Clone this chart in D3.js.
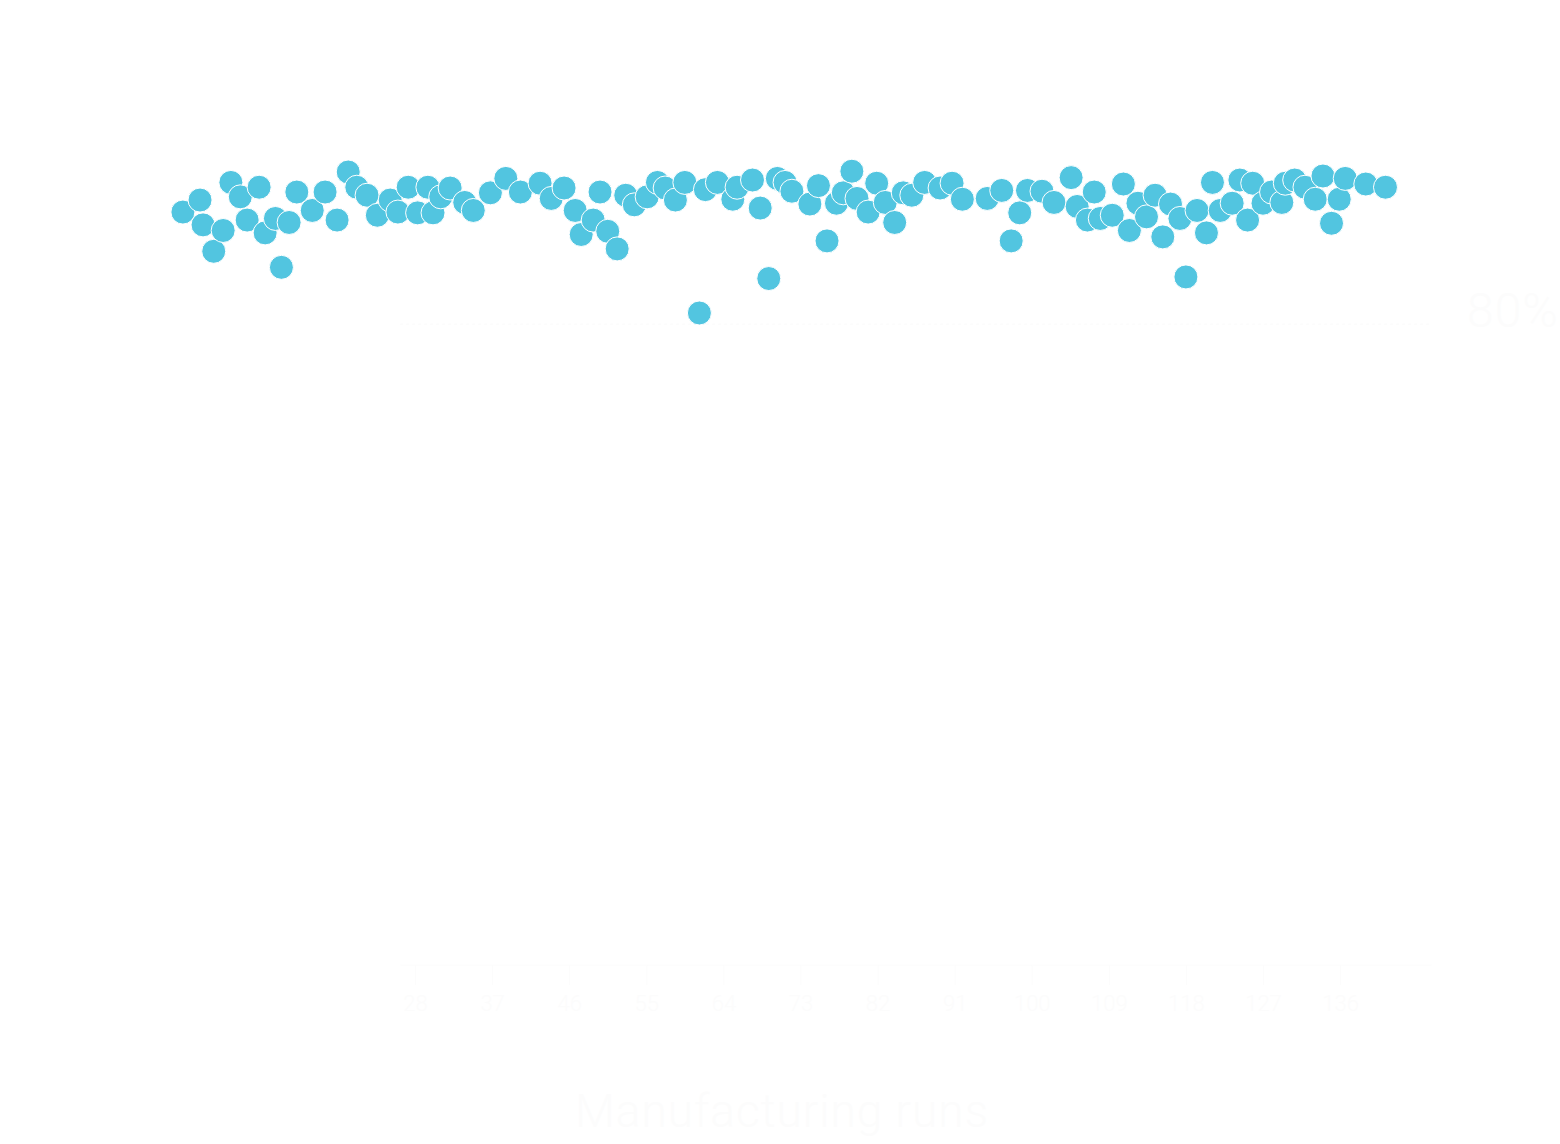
<!DOCTYPE html>
<html>
<head>
<meta charset="utf-8">
<script src="https://cdn.jsdelivr.net/npm/d3@7"></script>
<style>
  body { margin: 0; background: #ffffff; }
  svg { display: block; font-family: Roboto, sans-serif; }
</style>
</head>
<body>
<script>
// run number (x) and yield % (y)
var runs = [0.9, 2.9, 3.25, 4.5, 5.6, 6.5, 7.6, 8.4, 9.8, 10.5, 11.7, 12.4, 13.3, 14.2, 16.0, 17.5, 18.9, 20.2, 21.2, 22.4,
    23.6, 25.1, 26.0, 27.2, 28.3, 29.5, 30.1, 31.0, 32.1, 33.8, 34.8, 36.8, 38.6, 40.3, 42.6, 43.9, 45.4, 46.7, 47.4, 48.8,
    49.6, 50.5, 51.6, 52.6, 53.6, 55.1, 56.3, 57.2, 58.4, 59.5, 61.2, 61.9, 63.3, 65.1, 65.6, 67.4, 68.3, 69.3, 70.3, 71.2,
    72.0, 74.1, 75.1, 76.1, 77.2, 78.0, 79.0, 79.6, 80.9, 81.9, 82.9, 84.0, 85.0, 86.0, 87.5, 89.3, 90.7, 91.9, 94.8, 96.5,
    97.6, 98.6, 99.5, 101.2, 102.6, 104.6, 105.3, 106.5, 107.3, 108.0, 109.4, 110.7, 111.4, 112.4, 113.4, 114.4, 115.3, 116.2, 117.3, 118.0,
    119.3, 120.4, 121.1, 122.0, 123.4, 124.3, 125.2, 125.8, 127.0, 128.0, 129.2, 129.6, 130.7, 131.9, 133.1, 134.0, 135.0, 135.9, 136.6, 139.0,
    141.3];
var yields = [94.0, 95.5, 92.4, 89.1, 91.7, 97.7, 95.9, 93.0, 97.1, 91.4, 93.2, 87.1, 92.7, 96.5, 94.2, 96.5, 93.0, 99.0, 97.1, 96.1,
    93.6, 95.5, 94.0, 97.1, 93.9, 97.1, 93.9, 95.9, 97.0, 95.2, 94.2, 96.4, 98.2, 96.5, 97.6, 95.7, 97.0, 94.2, 91.2, 93.0,
    96.5, 91.6, 89.4, 96.1, 94.9, 95.9, 97.7, 97.0, 95.5, 97.7, 81.4, 96.8, 97.7, 95.6, 97.1, 98.0, 94.5, 85.7, 98.2, 97.7,
    96.6, 95.0, 97.3, 90.4, 95.1, 96.4, 99.1, 95.7, 94.0, 97.6, 95.2, 92.7, 96.4, 96.1, 97.7, 97.0, 97.6, 95.6, 95.7, 96.7,
    90.4, 93.9, 96.7, 96.6, 95.2, 98.3, 94.7, 93.0, 96.5, 93.2, 93.6, 97.5, 91.7, 95.1, 93.4, 96.1, 90.9, 95.0, 93.2, 85.9,
    94.2, 91.4, 97.7, 94.2, 95.1, 98.0, 93.0, 97.6, 95.1, 96.5, 95.2, 97.6, 98.0, 97.1, 95.6, 98.5, 92.6, 95.6, 98.2, 97.5,
    97.1];
var xTicks = [28, 37, 46, 55, 64, 73, 82, 91, 100, 109, 118, 127, 136];
var axisSpan = [26.25, 146.7];
var target = 80;

var width = 1560,
    height = 1144;

var svg = d3.select("body").append("svg")
    .attr("width", width)
    .attr("height", height);

var x = d3.scaleLinear().domain([0, 150]).range([175.2, 1460]);
var y = d3.scaleLinear().domain([0, 100]).range([965, 164]);

var faint = "#fcfcfc";

// bottom axis, almost invisible
var gx = svg.append("g")
    .attr("transform", "translate(0," + y(0) + ")")
    .call(d3.axisBottom(x).tickValues(xTicks).tickSize(20).tickPadding(10).tickSizeOuter(0));
gx.select(".domain")
    .attr("d", "M" + x(axisSpan[0]) + ",0H" + x(axisSpan[1]))
    .attr("stroke", faint);
gx.selectAll(".tick line").attr("stroke", faint);
gx.selectAll(".tick text")
    .attr("fill", faint)
    .style("font-size", "22px")
    .style("font-weight", 300)
    .style("font-family", "Roboto, sans-serif");

// target line at 80%
svg.append("line")
    .attr("x1", x(axisSpan[0]))
    .attr("x2", x(axisSpan[1]))
    .attr("y1", y(target))
    .attr("y2", y(target))
    .attr("stroke", faint)
    .attr("stroke-width", 1.5)
    .style("stroke-dasharray", "3, 3");

svg.append("text")
    .attr("x", 1467)
    .attr("y", y(target) + 3)
    .text(target + "%")
    .attr("fill", faint)
    .style("font-size", "48px")
    .style("letter-spacing", "1px")
    .style("font-weight", 300);

svg.append("text")
    .attr("x", 782)
    .attr("y", 1127)
    .attr("text-anchor", "middle")
    .text("Manufacturing runs")
    .attr("fill", faint)
    .style("font-size", "46px")
    .style("letter-spacing", "1px")
    .style("font-weight", 300);

svg.append("g")
    .selectAll("circle")
    .data(runs)
    .join("circle")
    .attr("cx", d => x(d))
    .attr("cy", (d, i) => y(yields[i]))
    .attr("r", 12)
    .attr("fill", "#52c5e0")
    .attr("stroke", "#ffffff")
    .attr("stroke-width", 1);
</script>
</body>
</html>
